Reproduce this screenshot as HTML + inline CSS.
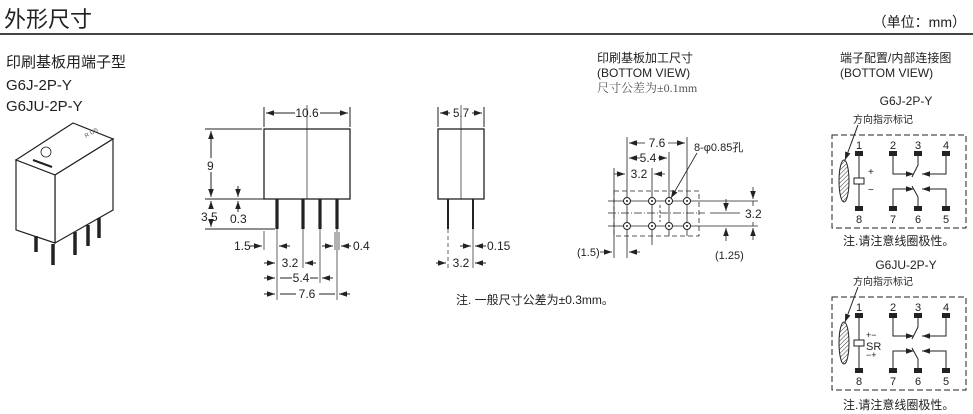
<!DOCTYPE html>
<html><head><meta charset="utf-8"><style>
html,body{margin:0;padding:0;background:#fff;}
svg{display:block;font-family:"Liberation Sans","Noto Sans CJK SC",sans-serif;}
</style></head><body>
<svg width="973" height="414" viewBox="0 0 973 414" xmlns="http://www.w3.org/2000/svg">
<defs>
<marker id="a" viewBox="0 0 10 10" refX="10" refY="5" markerWidth="8" markerHeight="8" markerUnits="userSpaceOnUse" orient="auto-start-reverse"><path d="M0,1.5 L10,5 L0,8.5z" fill="#222"/></marker>
<pattern id="h" width="3" height="3" patternUnits="userSpaceOnUse" patternTransform="rotate(45)"><line x1="0" y1="0" x2="0" y2="3" stroke="#333" stroke-width="1"/></pattern>
</defs>
<text x="4" y="27" font-size="22" fill="#222">外形尺寸</text>
<text x="966" y="27" font-size="14" text-anchor="end" fill="#222">（单位：mm）</text>
<rect x="0" y="33" width="973" height="2" fill="#444"/>
<text x="6" y="67" font-size="15" fill="#222">印刷基板用端子型</text>
<text x="6" y="90" font-size="15" fill="#222">G6J-2P-Y</text>
<text x="6" y="111" font-size="15" fill="#222">G6JU-2P-Y</text>

<g stroke="#222" stroke-width="1.2" fill="#fff">
<polygon points="16,160 55,175 113,139 73,123"/>
<polygon points="55,175 113,139 113,210 55,243"/>
<polygon points="16,160 55,175 55,243 16,230"/>
<line x1="36" y1="236" x2="36" y2="252" stroke-width="3.5"/>
<line x1="53" y1="244" x2="53" y2="265" stroke-width="3.5"/>
<line x1="75" y1="232" x2="75" y2="255" stroke-width="3.5"/>
<line x1="88" y1="225" x2="88" y2="246" stroke-width="3.5"/>
<line x1="99" y1="218" x2="99" y2="238" stroke-width="3.5"/>
<circle cx="46" cy="152" r="5" stroke-width="0.8"/>
<line x1="33" y1="160" x2="52" y2="167" stroke-width="2"/>
<text x="86" y="138" font-size="6" fill="#555" stroke="none" transform="rotate(-30 86 138)">R US</text>
</g>

<g stroke="#222" stroke-width="1" fill="none">
<rect x="264" y="129" width="86" height="70" stroke-width="1.3"/>
<line x1="307" y1="105" x2="307" y2="199" stroke-width="0.7"/>
<line x1="264" y1="107" x2="264" y2="127"/><line x1="350" y1="107" x2="350" y2="127"/>
<line x1="266" y1="113" x2="295" y2="113" marker-start="url(#a)"/>
<line x1="320" y1="113" x2="348" y2="113" marker-end="url(#a)"/>
<line x1="205" y1="129" x2="262" y2="129"/>
<line x1="205" y1="199" x2="275" y2="199"/>
<line x1="205" y1="229" x2="275" y2="229"/>
<line x1="211" y1="158" x2="211" y2="131" marker-end="url(#a)"/>
<line x1="211" y1="172" x2="211" y2="197" marker-end="url(#a)"/>
<line x1="211" y1="208" x2="211" y2="201" marker-end="url(#a)"/>
<line x1="211" y1="221" x2="211" y2="227" marker-end="url(#a)"/>
<line x1="238" y1="186" x2="238" y2="197" marker-end="url(#a)"/>
<line x1="238" y1="212" x2="238" y2="201" marker-end="url(#a)"/>
<g stroke-width="3.2"><line x1="277" y1="199" x2="277" y2="229"/><line x1="303" y1="199" x2="303" y2="229"/><line x1="320" y1="199" x2="320" y2="229"/><line x1="337" y1="199" x2="337" y2="229"/></g>
<line x1="264" y1="231" x2="264" y2="250" stroke-width="0.7"/>
<line x1="277" y1="229" x2="277" y2="300" stroke-width="0.7"/>
<line x1="303" y1="229" x2="303" y2="268" stroke-width="0.7"/>
<line x1="320" y1="229" x2="320" y2="283" stroke-width="0.7"/>
<line x1="337" y1="229" x2="337" y2="300" stroke-width="0.7"/>
<line x1="335" y1="232" x2="335" y2="250" stroke-width="0.7"/><line x1="339" y1="232" x2="339" y2="250" stroke-width="0.7"/>
<line x1="250" y1="246" x2="262" y2="246" marker-end="url(#a)"/>
<line x1="290" y1="246" x2="279" y2="246" marker-end="url(#a)"/>
<line x1="322" y1="246" x2="333" y2="246" marker-end="url(#a)"/>
<line x1="351" y1="246" x2="341" y2="246" marker-end="url(#a)"/>
<line x1="264" y1="263" x2="275" y2="263" marker-end="url(#a)"/>
<line x1="316" y1="263" x2="305" y2="263" marker-end="url(#a)"/>
<line x1="264" y1="278" x2="275" y2="278" marker-end="url(#a)"/>
<line x1="333" y1="278" x2="322" y2="278" marker-end="url(#a)"/>
<line x1="264" y1="294" x2="275" y2="294" marker-end="url(#a)"/>
<line x1="350" y1="294" x2="339" y2="294" marker-end="url(#a)"/>
<line x1="280" y1="278" x2="292" y2="278"/><line x1="310" y1="278" x2="318" y2="278"/>
<line x1="280" y1="294" x2="296" y2="294"/><line x1="319" y1="294" x2="335" y2="294"/>
</g>
<g font-size="12" fill="#222">
<text x="307" y="117" text-anchor="middle">10.6</text>
<text x="207" y="170">9</text>
<text x="201" y="221">3.5</text>
<text x="230" y="223">0.3</text>
<text x="234" y="250">1.5</text>
<text x="353" y="250">0.4</text>
<text x="290" y="267" text-anchor="middle">3.2</text>
<text x="301" y="282" text-anchor="middle">5.4</text>
<text x="307" y="298" text-anchor="middle">7.6</text>
</g>

<g stroke="#222" stroke-width="1" fill="none">
<rect x="438" y="129" width="46" height="70" stroke-width="1.3"/>
<line x1="461" y1="105" x2="461" y2="199" stroke-width="0.7"/>
<line x1="438" y1="107" x2="438" y2="127"/><line x1="484" y1="107" x2="484" y2="127"/>
<line x1="450" y1="113" x2="440" y2="113" marker-end="url(#a)"/>
<line x1="472" y1="113" x2="482" y2="113" marker-end="url(#a)"/>
<g stroke-width="2"><line x1="448" y1="199" x2="448" y2="229"/><line x1="473" y1="199" x2="473" y2="229"/></g>
<line x1="448" y1="229" x2="448" y2="268" stroke-width="0.7" stroke-dasharray="4,3"/>
<line x1="473" y1="229" x2="473" y2="268" stroke-width="0.7"/>
<line x1="460" y1="246" x2="471" y2="246" marker-end="url(#a)"/>
<line x1="486" y1="246" x2="475" y2="246" marker-end="url(#a)"/>
<line x1="436" y1="263" x2="446" y2="263" marker-end="url(#a)"/>
<line x1="486" y1="263" x2="475" y2="263" marker-end="url(#a)"/>
</g>
<g font-size="12" fill="#222">
<text x="461" y="117" text-anchor="middle" font-size="11.5">5.7</text>
<text x="487" y="250">0.15</text>
<text x="461" y="267" text-anchor="middle">3.2</text>
<text x="456" y="304" font-size="12">注. 一般尺寸公差为±0.3mm。</text>
</g>

<g font-size="12" fill="#222">
<text x="597" y="62">印刷基板加工尺寸</text>
<text x="597" y="77">(BOTTOM VIEW)</text>
<text x="597" y="92" fill="#555" font-family="Liberation Serif,'Noto Serif CJK SC',serif">尺寸公差为±0.1mm</text>
</g>
<g stroke="#222" stroke-width="0.8" fill="none">
<rect x="614" y="191" width="85" height="45" stroke-dasharray="5,3"/>
<line x1="608" y1="213" x2="705" y2="213" stroke-dasharray="8,2,1,2"/>
<line x1="608" y1="201" x2="758" y2="201"/><line x1="608" y1="226" x2="758" y2="226"/>
<line x1="627" y1="137" x2="627" y2="258"/>
<line x1="652" y1="168" x2="652" y2="245"/>
<line x1="669" y1="152" x2="669" y2="236"/>
<line x1="687" y1="137" x2="687" y2="236"/>
<line x1="614" y1="168" x2="614" y2="258"/>
<line x1="660" y1="205" x2="660" y2="222" stroke-dasharray="3,2"/>
<line x1="645" y1="143" x2="629" y2="143" marker-end="url(#a)"/>
<line x1="668" y1="143" x2="685" y2="143" marker-end="url(#a)"/>
<line x1="640" y1="158" x2="629" y2="158" marker-end="url(#a)"/>
<line x1="658" y1="158" x2="667" y2="158" marker-end="url(#a)"/>
<line x1="614" y1="174" x2="625" y2="174" marker-end="url(#a)"/>
<line x1="665" y1="174" x2="654" y2="174" marker-end="url(#a)"/>
<line x1="600" y1="252" x2="612" y2="252" marker-end="url(#a)"/>
<line x1="640" y1="252" x2="629" y2="252" marker-end="url(#a)"/>
<line x1="753" y1="187" x2="753" y2="199" marker-end="url(#a)"/>
<line x1="753" y1="240" x2="753" y2="228" marker-end="url(#a)"/>
<line x1="753" y1="201" x2="753" y2="206"/><line x1="753" y1="222" x2="753" y2="226"/>
<line x1="710" y1="213" x2="740" y2="213"/>
<line x1="726" y1="199" x2="726" y2="211" marker-end="url(#a)"/>
<line x1="726" y1="241" x2="726" y2="228" marker-end="url(#a)"/>
<line x1="697" y1="153" x2="671" y2="198" marker-end="url(#a)"/>
</g>
<g fill="#fff" stroke="#222" stroke-width="1">
<circle cx="627" cy="201" r="3.5"/><circle cx="652" cy="201" r="3.5"/><circle cx="669" cy="201" r="3.5"/><circle cx="687" cy="201" r="3.5"/>
<circle cx="627" cy="226" r="3.5"/><circle cx="652" cy="226" r="3.5"/><circle cx="669" cy="226" r="3.5"/><circle cx="687" cy="226" r="3.5"/>
</g>
<g fill="#222"><circle cx="627" cy="201" r="1"/><circle cx="652" cy="201" r="1"/><circle cx="669" cy="201" r="1"/><circle cx="687" cy="201" r="1"/><circle cx="627" cy="226" r="1"/><circle cx="652" cy="226" r="1"/><circle cx="669" cy="226" r="1"/><circle cx="687" cy="226" r="1"/></g>
<g font-size="12" fill="#222">
<text x="657" y="147" text-anchor="middle">7.6</text>
<text x="648" y="162" text-anchor="middle">5.4</text>
<text x="639" y="178" text-anchor="middle">3.2</text>
<text x="694" y="151" font-size="11">8-φ0.85孔</text>
<text x="745" y="218">3.2</text>
<text x="577" y="256" font-size="11">(1.5)</text>
<text x="715" y="259" font-size="11">(1.25)</text>
</g>

<g font-size="12" fill="#222">
<text x="840" y="62">端子配置/内部连接图</text>
<text x="840" y="77">(BOTTOM VIEW)</text>
<text x="906" y="105" text-anchor="middle">G6J-2P-Y</text>
<text x="906" y="269" text-anchor="middle">G6JU-2P-Y</text>
<text x="843" y="245">注.请注意线圈极性。</text>
<text x="843" y="409">注.请注意线圈极性。</text>
</g>
<g id="pin">
<text x="853" y="123" font-size="10" fill="#222">方向指示标记</text>
<g stroke="#222" fill="none" stroke-width="1">
<rect x="832" y="135" width="134" height="93" stroke-dasharray="6,3"/>
<line x1="858" y1="125" x2="845" y2="160" marker-end="url(#a)"/>
<ellipse cx="844" cy="181" rx="5" ry="21" fill="url(#h)"/>
<line x1="859" y1="153" x2="859" y2="208"/>
<rect x="854" y="178" width="10" height="6" fill="#fff"/>
<polyline points="893,153 893,174 914,174" marker-end="url(#a)"/>
<polyline points="946,153 946,174 922,174" marker-end="url(#a)"/>
<polyline points="918,153 918,165 912,177"/>
<polyline points="893,208 893,189 914,189" marker-end="url(#a)"/>
<polyline points="946,208 946,189 922,189" marker-end="url(#a)"/>
<polyline points="918,208 918,197 912,186"/>
</g>
<g fill="#222">
<rect x="855" y="151" width="8" height="5"/><rect x="889" y="151" width="8" height="5"/><rect x="914" y="151" width="8" height="5"/><rect x="942" y="151" width="8" height="5"/>
<rect x="855" y="206" width="8" height="5"/><rect x="889" y="206" width="8" height="5"/><rect x="914" y="206" width="8" height="5"/><rect x="942" y="206" width="8" height="5"/>
</g>
<g font-size="11" fill="#222" text-anchor="middle">
<text x="859" y="149">1</text><text x="893" y="149">2</text><text x="918" y="149">3</text><text x="946" y="149">4</text>
<text x="859" y="223">8</text><text x="893" y="223">7</text><text x="918" y="223">6</text><text x="946" y="223">5</text>
</g>
</g>
<g font-size="10" fill="#222"><text x="868" y="175">+</text><text x="868" y="193">−</text></g>
<use href="#pin" transform="translate(0,162)"/>
<rect x="866" y="330" width="20" height="30" fill="#fff"/>
<g font-size="9" fill="#222"><text x="866" y="338">+−</text><text x="866" y="358">−+</text><text x="866" y="350" font-size="11">SR</text></g>
</svg>
</body></html>
